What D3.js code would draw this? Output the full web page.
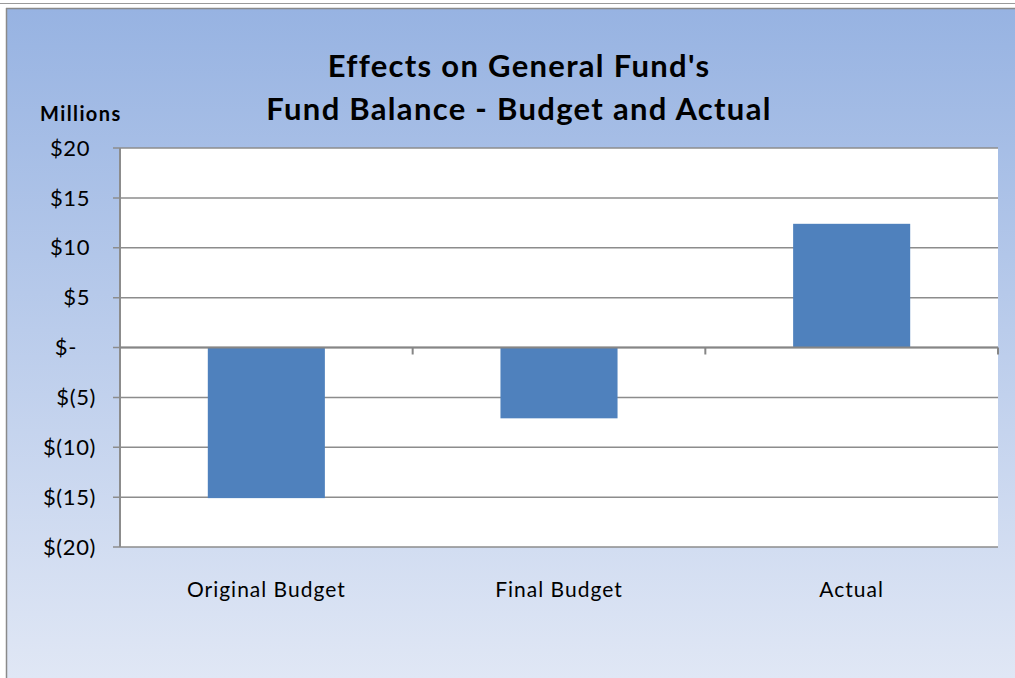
<!DOCTYPE html>
<html lang="en">
<head>
  <meta charset="UTF-8">
  <title>Effects on General Fund's Fund Balance</title>
  <style>
    body { margin: 0; background: #fff; }
    text { font-family: Lato, "Open Sans", sans-serif; fill: #000; }
  </style>
</head>
<body>
<div id="chart"></div>
<script src="https://d3js.org/d3.v7.min.js"></script>
<script>
  // data
  const categories = ["Original Budget", "Final Budget", "Actual"];
  const values = [-15.1, -7.1, 12.4];           // millions
  const yTicks = [20, 15, 10, 5, 0, -5, -10, -15, -20];
  const titleLines = ["Effects on General Fund's", "Fund Balance - Budget and Actual"];

  const w = 1015, h = 678;
  const plot = {left: 120, right: 998, top: 148, bottom: 547};

  const svg = d3.select("#chart").append("svg")
      .attr("width", w).attr("height", h);

  // background gradient
  const grad = svg.append("defs").append("linearGradient")
      .attr("id", "bg").attr("x1", 0).attr("y1", 0).attr("x2", 0).attr("y2", 1);
  grad.append("stop").attr("offset", "0%").attr("stop-color", "#97b3e2");
  grad.append("stop").attr("offset", "100%").attr("stop-color", "#e0e7f5");

  svg.append("rect").attr("x", 7).attr("y", 9).attr("width", w - 7).attr("height", h - 9)
      .attr("fill", "url(#bg)");

  // outer borders
  svg.append("line").attr("x1", 0).attr("x2", w).attr("y1", 3.5).attr("y2", 3.5)
      .attr("stroke", "#9a9a9a").attr("stroke-width", 1);
  svg.append("line").attr("x1", 6).attr("x2", w).attr("y1", 8.5).attr("y2", 8.5)
      .attr("stroke", "#8a8a8a").attr("stroke-width", 1.5);
  svg.append("line").attr("x1", 6.5).attr("x2", 6.5).attr("y1", 8).attr("y2", h)
      .attr("stroke", "#8a8a8a").attr("stroke-width", 1.5);

  // scales
  const x = d3.scaleBand().domain(categories)
      .range([plot.left, plot.right]).paddingInner(0.6).paddingOuter(0.3);
  const y = d3.scaleLinear().domain([-20, 20]).range([plot.bottom, plot.top]);

  // plot area
  svg.append("rect").attr("x", plot.left).attr("y", plot.top)
      .attr("width", plot.right - plot.left).attr("height", plot.bottom - plot.top)
      .attr("fill", "#fff");

  // gridlines
  svg.append("g").selectAll("line").data(yTicks).join("line")
      .attr("x1", plot.left - 7).attr("x2", plot.right)
      .attr("y1", d => y(d)).attr("y2", d => y(d))
      .attr("stroke", "#8c8c8c").attr("stroke-width", 1.5);

  // y axis line
  svg.append("line").attr("x1", plot.left).attr("x2", plot.left)
      .attr("y1", plot.top).attr("y2", plot.bottom)
      .attr("stroke", "#8c8c8c").attr("stroke-width", 2);

  // bars
  svg.append("g").selectAll("rect").data(values).join("rect")
      .attr("x", (d, i) => x(categories[i]))
      .attr("width", x.bandwidth())
      .attr("y", d => y(Math.max(0, d)))
      .attr("height", d => Math.abs(y(d) - y(0)))
      .attr("fill", "#4f81bd");

  // zero axis line with category ticks
  svg.append("line").attr("x1", plot.left).attr("x2", plot.right)
      .attr("y1", y(0)).attr("y2", y(0))
      .attr("stroke", "#868686").attr("stroke-width", 2);
  const step = x.step();
  svg.append("g").selectAll("line").data(d3.range(1, categories.length + 1)).join("line")
      .attr("x1", d => plot.left + d * step).attr("x2", d => plot.left + d * step)
      .attr("y1", y(0)).attr("y2", y(0) + 7)
      .attr("stroke", "#868686").attr("stroke-width", 2);

  // y tick labels (accounting style)
  function fmt(v) {
    if (v > 0) return "$" + v;
    if (v < 0) return "$(" + (-v) + ")";
    return "$-";
  }
  svg.append("g").selectAll("text").data(yTicks).join("text")
      .attr("x", d => d > 0 ? 90 : (d < 0 ? 96 : 77))
      .attr("y", d => y(d))
      .attr("dy", "0.35em")
      .attr("text-anchor", "end")
      .attr("font-size", 22)
      .attr("letter-spacing", 0.6)
      .text(fmt);

  // category labels
  svg.append("g").selectAll("text").data(categories).join("text")
      .attr("x", d => x(d) + x.bandwidth() / 2)
      .attr("y", 597)
      .attr("text-anchor", "middle")
      .attr("font-size", 21)
      .attr("letter-spacing", 1)
      .text(d => d);

  // axis title
  svg.append("text").attr("x", 40).attr("y", 121)
      .attr("font-size", 20).attr("font-weight", "bold")
      .attr("letter-spacing", 1.4)
      .text("Millions");

  // chart title
  svg.append("g").selectAll("text").data(titleLines).join("text")
      .attr("x", 519)
      .attr("y", (d, i) => 77 + i * 43)
      .attr("text-anchor", "middle")
      .attr("font-size", 31).attr("font-weight", "bold")
      .attr("letter-spacing", 1.3)
      .text(d => d);
</script>
</body>
</html>
